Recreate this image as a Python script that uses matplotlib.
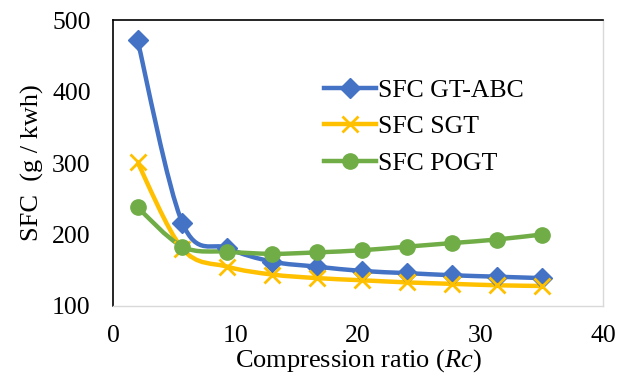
import numpy as np
import matplotlib.pyplot as plt
from matplotlib.path import Path
from matplotlib.patches import PathPatch

rc = [2, 5.67, 9.33, 13, 16.67, 20.33, 24, 27.67, 31.33, 35]
sfc_abc = [472, 216, 181, 162, 155, 149, 146, 143, 141, 139]
sfc_sgt = [301, 180, 155, 144, 139, 136, 133, 131, 129, 128]
sfc_pogt = [238, 183, 176, 173, 175, 178, 183, 188, 193, 200]

names = ['SFC GT-ABC', 'SFC SGT', 'SFC POGT']
colors = ['#4472C4', '#FFC000', '#70AD47']
markers = ['D', 'x', 'o']
msizes = [10, 12, 11]

plt.rcParams['font.family'] = ['Liberation Serif', 'DejaVu Serif']
plt.rcParams['mathtext.fontset'] = 'custom'
plt.rcParams['mathtext.it'] = 'Liberation Serif:italic'
plt.rcParams['mathtext.rm'] = 'Liberation Serif'

fig = plt.figure(figsize=(6.27, 3.74), dpi=100)
ax = fig.add_axes([113 / 627, 1 - 306 / 374, 490 / 627, 286 / 374])


def smooth_path(x, y, t=0.5):
    # excel-style smoothed line as cubic bezier segments
    x = np.asarray(x, float)
    y = np.asarray(y, float)
    verts = [(x[0], y[0])]
    codes = [Path.MOVETO]
    n = len(x)
    for i in range(n - 1):
        x0, y0 = (x[i - 1], y[i - 1]) if i > 0 else (x[i], y[i])
        x3, y3 = (x[i + 2], y[i + 2]) if i + 2 < n else (x[i + 1], y[i + 1])
        c1 = (x[i] + (x[i + 1] - x0) * t / 3, y[i] + (y[i + 1] - y0) * t / 3)
        c2 = (x[i + 1] - (x3 - x[i]) * t / 3, y[i + 1] - (y3 - y[i]) * t / 3)
        verts += [c1, c2, (x[i + 1], y[i + 1])]
        codes += [Path.CURVE4] * 3
    return Path(verts, codes)


for ys, name, c, m, ms in zip([sfc_abc, sfc_sgt, sfc_pogt], names, colors, markers, msizes):
    mew = 2 if m == 'x' else 1
    ax.add_patch(PathPatch(smooth_path(rc, ys), fill=False, edgecolor=c, lw=3.2, zorder=2))
    ax.plot(rc, ys, ls='none', marker=m, color=c, ms=ms, mew=mew, zorder=3)
    ax.plot([], [], color=c, lw=3.2, marker=m, ms=ms, mew=mew, label=name)

ax.set_xlim(0, 40)
ax.set_ylim(100, 500)
ax.set_xticks([0, 10, 20, 30, 40])
ax.set_yticks([100, 200, 300, 400, 500])
ax.tick_params(length=0, labelsize=18.5)
ax.tick_params(axis='y', pad=16)
ax.tick_params(axis='x', pad=14)
for s in ['top', 'left']:
    ax.spines[s].set_color('black')
    ax.spines[s].set_linewidth(1.2)
for s in ['right', 'bottom']:
    ax.spines[s].set_color('#d9d9d9')
    ax.spines[s].set_linewidth(1)

ax.set_xlabel('Compression ratio ($Rc$)', fontsize=19)
ax.xaxis.set_label_coords(0.5, -0.145)
ax.set_ylabel('SFC  (g / kwh)', fontsize=19, labelpad=6)

ax.legend(loc='upper left', bbox_to_anchor=(0.41, 0.83), frameon=False, fontsize=18.5,
          handlelength=2.0, handletextpad=0.1, labelspacing=0.52, borderaxespad=0)

fig.savefig('out.png', dpi=100)
